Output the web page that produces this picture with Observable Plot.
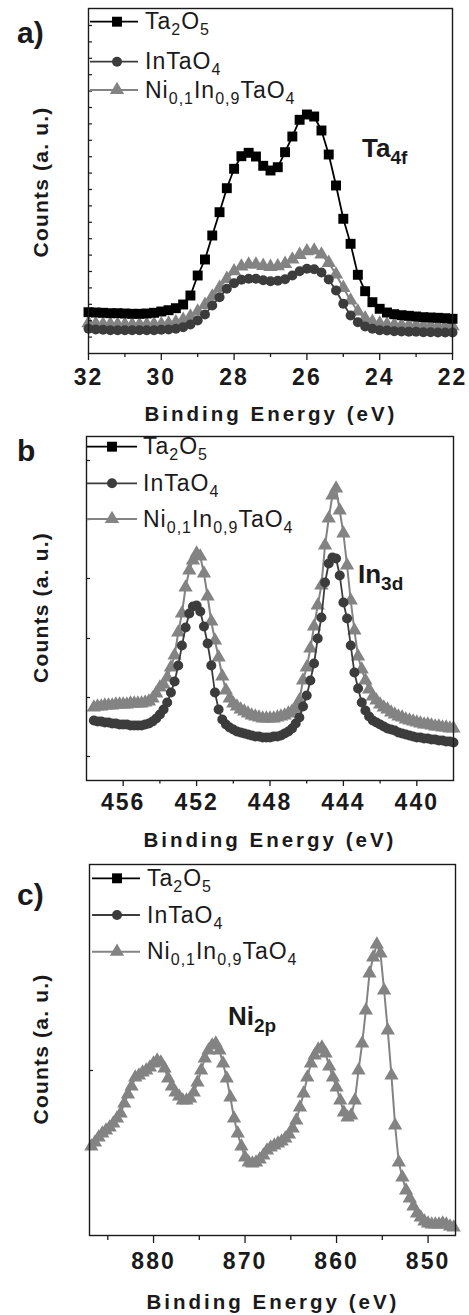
<!DOCTYPE html>
<html><head><meta charset="utf-8">
<script src="https://cdn.jsdelivr.net/npm/d3@7"></script>
<script src="https://cdn.jsdelivr.net/npm/@observablehq/plot@0.6"></script>
<style>
body{margin:0;background:#fff;}
#chart{position:relative;width:469px;height:1315px;background:#fff;overflow:hidden;font-family:"Liberation Sans",Arial,sans-serif;}
#chart svg{position:absolute;left:0;overflow:visible;}
</style></head><body><div id="chart"></div>
<script>
// ---------- data ----------
const seriesNames = ["Ta2O5", "InTaO4", "Ni0,1In0,9TaO4"];
const legendParts = [
  [["Ta",0],["2",1],["O",0],["5",1]],
  [["InTaO",0],["4",1]],
  [["Ni",0],["0,1",1],["In",0],["0,9",1],["TaO",0],["4",1]]
];
const xTitle = "Binding Energy (eV)";
const yTitle = "Counts (a. u.)";
const panelLabels = ["a)", "b", "c)"];
const peakLabels = [[["Ta",0],["4f",1]], [["In",0],["3d",1]], [["Ni",0],["2p",1]]];

// panel a : Ta 4f
const aEnergy = [32,31.8,31.6,31.4,31.2,31,30.8,30.6,30.4,30.2,30,29.8,29.6,29.4,29.2,29,28.8,28.6,28.4,28.2,28,27.8,27.6,27.4,27.2,27,26.8,26.6,26.4,26.2,26,25.8,25.6,25.4,25.2,25,24.8,24.6,24.4,24.2,24,23.8,23.6,23.4,23.2,23,22.8,22.6,22.4,22.2,22];
const aTa2O5 = [41.3,41.0,40.7,40.3,40.3,40.0,39.7,39.7,40.0,40.7,42.0,43.3,45.3,49.0,58.0,78.0,94.0,118.0,141.3,165.3,184.7,197.3,200.7,197.0,187.7,183.0,186.3,201.3,217.0,233.7,239.0,237.0,223.0,199.0,168.0,134.7,109.7,78.7,62.3,51.3,44.7,41.0,39.3,38.3,37.7,37.0,36.3,36.0,35.7,35.3,34.7];
const aInTaO4 = [24.7,24.0,23.7,23.3,23.3,23.3,23.3,23.3,23.3,23.3,23.7,24.0,24.7,26.3,29.0,33.0,39.0,48.0,56.3,64.7,70.3,73.7,74.7,74.7,73.3,72.3,72.7,74.3,78.0,82.3,84.7,84.3,81.0,74.0,63.0,49.7,38.0,31.3,27.0,24.7,23.3,23.0,22.3,22.0,21.7,21.7,21.3,21.3,21.0,21.0,21.0];
const aNiInTaO4 = [30.3,29.7,29.3,29.3,29.0,29.0,29.0,29.0,29.0,29.3,29.3,30.0,31.3,33.7,37.0,42.0,48.7,57.0,65.7,74.7,82.3,87.0,89.0,89.0,87.7,86.7,87.3,89.7,94.0,98.7,102.3,103.0,99.0,90.7,79.0,65.7,53.0,42.0,35.3,31.7,30.0,29.0,28.7,28.3,28.0,28.0,27.7,27.7,27.3,27.3,27.3];
const aXTicks = [32,30,28,26,24,22];
const aXMinor = [31,29,27,25,23];
const aYTicks = [16.4,32.8,49.2,65.6,82,98.4,114.8,131.2,147.6,164,180.4,196.8,213.2,229.6,246,262.4,278.8,295.2,311.6,328];

// panel b : In 3d
const bEnergy = [457.6,457.4,457.2,
 457,456.8,456.6,456.4,456.2, 456,455.8,455.6,455.4,455.2, 455,454.8,454.6,454.4,454.2, 454,453.8,453.6,453.4,453.2,
 453,452.8,452.6,452.4,452.2, 452,451.8,451.6,451.4,451.2, 451,450.8,450.6,450.4,450.2, 450,449.8,449.6,449.4,449.2,
 449,448.8,448.6,448.4,448.2, 448,447.8,447.6,447.4,447.2, 447,446.8,446.6,446.4,446.2, 446,445.8,445.6,445.4,445.2,
 445,444.8,444.6,444.4,444.2, 444,443.8,443.6,443.4,443.2, 443,442.8,442.6,442.4,442.2, 442,441.8,441.6,441.4,441.2,
 441,440.8,440.6,440.4,440.2, 440,439.8,439.6,439.4,439.2, 439,438.8,438.6,438.4,438.2, 438];
const bInTaO4 = [60,59,59,
 58,58,57,57,56, 56,56,55,55,55, 55,56,57,59,62, 66,71,78,88,99,
 115,135,153,167,174, 175,169,154,137,115, 88,71,61,56,53, 51,49,48,47,46,
 45,44,44,43,43, 43,44,44,45,47, 49,52,57,63,74, 85,100,117,142,163,
 198,217,223,222,205, 178,162,135,108,92, 78,70,64,60,58, 56,54,52,51,50,
 48,47,46,45,44, 43,43,42,42,41, 41,40,40,39,39, 38];
const bNiInTaO4 = [73,74,74,
 75,75,75,76,76, 76,76,77,77,77, 77,78,79,82,87, 93,96,103,113,125,
 148,167,193,210,220, 227,224,207,184,159, 140,123,104,90,82, 77,74,71,69,67,
 65,64,63,62,62, 62,62,63,64,65, 67,69,72,80,100, 113,132,154,175,195,
 235,262,285,292,270, 247,215,180,150,124, 111,100,91,84,80, 76,73,71,68,66,
 64,63,61,60,59, 58,57,56,56,55, 54,54,53,53,52, 52];
const bXTicks = [456,452,448,444,440];
const bXMinor = [454,450,446,442];
const bYTicks = [24,83,142,202,261,320];

// panel c : Ni 2p
const cEnergy = [886.8,886.4,886,885.6,885.2, 884.8,884.4,884,883.6,883.2, 882.8,882.4,882,881.6,881.2, 880.8,880.4,880,879.6,879.2,
 878.8,878.4,878,877.6,877.2, 876.8,876.4,876,875.6,875.2, 874.8,874.4,874,873.6,873.2, 872.8,872.4,872,871.6,871.2,
 870.8,870.4,870,869.6,869.2, 868.8,868.4,868,867.6,867.2, 866.8,866.4,866,865.6,865.2, 864.8,864.4,864,863.6,863.2,
 862.8,862.4,862,861.6,861.2, 860.8,860.4,860,859.6,859.2, 858.8,858.4,858,857.6,857.2, 856.8,856.4,856,855.6,855.2,
 854.8,854.4,854,853.6,853.2, 852.8,852.4,852,851.6,851.2, 850.8,850.4,850,849.6,849.2, 848.8,848.4,848,847.6,847.2];
const cNiInTaO4 = [89,93,98,102,105, 108,112,117,122,132, 141,149,158,160,163, 165,168,172,175,173,
 167,157,149,143,139, 135,135,137,143,153, 165,177,185,190,192, 185,172,157,138,117,
 102,89,78,73,72, 73,76,80,85,88, 90,92,94,97,101, 107,115,128,142,158,
 172,180,186,188,182, 169,158,148,135,123, 118,120,135,165,192, 225,262,278,291,282,
 245,205,160,110,73, 58,45,37,29,22, 18,14,12,11,11, 11,12,11,9,8];
const cXTicks = [880,870,860,850];
const cXMinor = [885,875,865,855];
const cYTicks = [165];

// ---------- styles ----------
const styles = [
  {color:"#000000", symbol:"square", r:5.6, lw:1.8},
  {color:"#3c3c3c", symbol:"circle", r:5, lw:1.8},
  {color:"#838383", symbol:"triangle", r:5.3, lw:2}
];
const INK = "#1a1a1a";
const FONT = '"Liberation Sans", Arial, sans-serif';

const panels = [
  {top:0, height:430, mt:8, mr:17, mb:77, ml:88, xDomain:[32,22], yDomain:[0,345],
   energy:aEnergy, values:[aTa2O5, aInTaO4, aNiInTaO4], xt:aXTicks, xm:aXMinor, yt:aYTicks,
   tMaj:7, tMin:4, pad:8, label:{x:17,y:43}, ylab:{x:47.5,y:182}, title:{x:271,y:421},
   legend:{x1:90,x2:138,xm:117,xt:145,ys:[21.7,61.7,90]}, peak:{x:362,y:157}},
  {top:430, height:430, mt:6, mr:16, mb:80, ml:86, xDomain:[458,438], yDomain:[0,344],
   energy:bEnergy, values:[null, bInTaO4, bNiInTaO4], xt:bXTicks, xm:bXMinor, yt:bYTicks,
   tMaj:6, tMin:3.5, pad:7, label:{x:17,y:31}, ylab:{x:47.5,y:177.5}, title:{x:270,y:417},
   legend:{x1:87,x2:137,xm:112,xt:143,ys:[16.7,53.3,89]}, peak:{x:358,y:153}},
  {top:860, height:455, mt:4, mr:14, mb:80, ml:89, xDomain:[887,847], yDomain:[0,371],
   energy:cEnergy, values:[null, null, cNiInTaO4], xt:cXTicks, xm:cXMinor, yt:cYTicks,
   tMaj:8, tMin:5, pad:9, label:{x:17,y:45}, ylab:{x:47.5,y:189}, title:{x:273,y:449},
   legend:{x1:92,x2:140,xm:117,xt:147,ys:[18.3,55,91.7]}, peak:{x:228,y:165}}
];

function richText(g, x, y, parts, o) {
  const t = g.append("text").attr("x", x).attr("y", y)
    .attr("text-anchor", "start")
    .style("font-size", o.size + "px").style("font-weight", o.weight || "normal")
    .style("letter-spacing", (o.ls || 0) + "px").attr("fill", o.fill || INK)
    .style("font-family", FONT);
  let shifted = false;
  parts.forEach(([s, sub]) => {
    const ts = t.append("tspan").text(s);
    if (sub && !shifted) { ts.attr("dy", o.subDy); shifted = true; }
    else if (!sub && shifted) { ts.attr("dy", -o.subDy); shifted = false; }
    if (sub) ts.style("font-size", o.subSize + "px");
  });
  return t;
}

const chart = document.getElementById("chart");
panels.forEach((p, pi) => {
  const marks = [];
  // draw order: Ni (back), InTaO4, Ta2O5 (front)
  [2, 1, 0].forEach(si => {
    const vals = p.values[si];
    if (!vals) return;
    const st = styles[si];
    const data = p.energy.map((e, i) => ({e, v: vals[i]}));
    marks.push(Plot.line(data, {x:"e", y:"v", stroke: st.color, strokeWidth: st.lw}));
    marks.push(Plot.dot(data, {x:"e", y:"v", symbol: st.symbol, r: st.r, fill: st.color, stroke: "none"}));
  });
  marks.push(Plot.axisX(p.xt, {anchor:"bottom", tickSize:p.tMaj, tickPadding:p.pad, fontSize:22, fontWeight:"bold",
    label:null, stroke:INK, strokeWidth:1.3, fill:INK, tickFormat: d => String(d)}));
  marks.push(Plot.axisX(p.xm, {anchor:"bottom", tickSize:p.tMin, label:null, stroke:INK, strokeWidth:1.3, fill:"none"}));
  marks.push(Plot.axisY(p.yt, {anchor:"left", tickSize:-4, label:null, stroke:INK, strokeWidth:1.2, fill:"none"}));
  marks.push(Plot.frame({stroke:INK, strokeWidth:1.4}));

  const svg = Plot.plot({
    width:469, height:p.height, marginTop:p.mt, marginRight:p.mr, marginBottom:p.mb, marginLeft:p.ml,
    x:{domain:p.xDomain}, y:{domain:p.yDomain},
    style:{fontFamily:FONT, background:"transparent", overflow:"visible"},
    marks
  });
  svg.style.top = p.top + "px";
  chart.appendChild(svg);

  const sel = d3.select(svg);
  sel.selectAll('g[aria-label="x-axis tick label"] text')
    .style("font-size", "23px").style("font-weight", "bold").style("letter-spacing", "2px")
    .style("font-family", FONT).attr("fill", INK);

  const g = sel.append("g").attr("text-anchor", "start");
  // panel letter
  g.append("text").attr("x", p.label.x).attr("y", p.label.y).attr("text-anchor", "start")
    .style("font-size", "30px").style("font-weight", "bold")
    .style("font-family", FONT).attr("fill", INK).text(panelLabels[pi]);
  // y title
  g.append("text").attr("transform", `translate(${p.ylab.x},${p.ylab.y}) rotate(-90)`).attr("text-anchor", "middle")
    .style("font-size", "21px").style("font-weight", "bold").style("letter-spacing", "1.2px")
    .style("font-family", FONT).attr("fill", INK).text(yTitle);
  // x title
  g.append("text").attr("x", p.title.x).attr("y", p.title.y).attr("text-anchor", "middle")
    .style("font-size", "20.5px").style("font-weight", "bold").style("letter-spacing", "3px")
    .style("font-family", FONT).attr("fill", INK).text(xTitle);
  // peak label
  richText(g, p.peak.x, p.peak.y, peakLabels[pi], {size:26, weight:"bold", subSize:19, subDy:7});
  // legend
  seriesNames.forEach((name, si) => {
    const st = styles[si], y = p.legend.ys[si];
    g.append("line").attr("x1", p.legend.x1).attr("x2", p.legend.x2).attr("y1", y).attr("y2", y)
      .attr("stroke", st.color).attr("stroke-width", st.lw);
    const symType = st.symbol === "square" ? d3.symbolSquare : st.symbol === "circle" ? d3.symbolCircle : d3.symbolTriangle;
    g.append("path").attr("transform", `translate(${p.legend.xm},${y})`)
      .attr("d", d3.symbol(symType, Math.PI * st.r * st.r)()).attr("fill", st.color);
    richText(g, p.legend.xt, y + 7.5, legendParts[si], {size:23, ls:1, subSize:16, subDy:6, fill:INK})
      .attr("aria-label", name);
  });
});
</script>
</body></html>
